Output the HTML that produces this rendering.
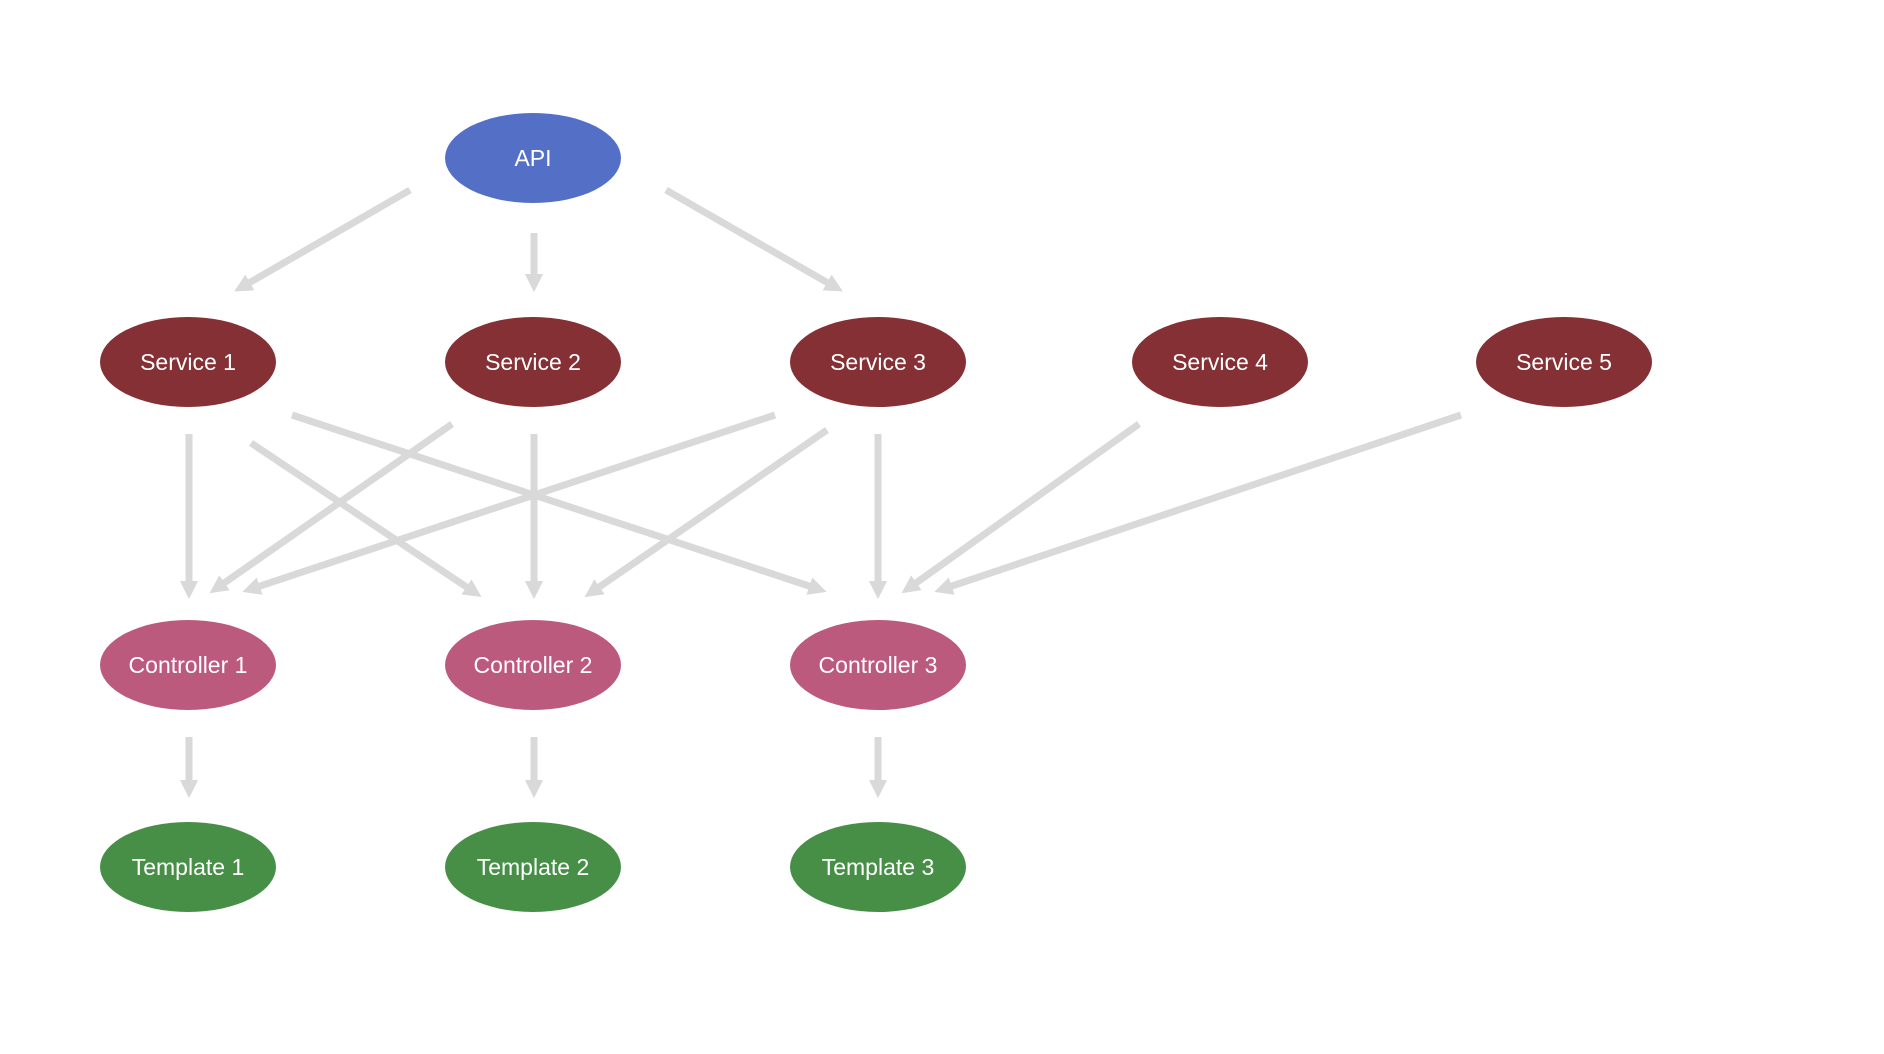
<!DOCTYPE html>
<html><head><meta charset="utf-8"><style>
html,body{margin:0;padding:0;background:#fff;width:1884px;height:1054px;overflow:hidden}
text{font-family:"Liberation Sans",sans-serif;font-size:23px;fill:#fff;text-anchor:middle;dominant-baseline:central}
</style></head><body>
<svg width="1884" height="1054" xmlns="http://www.w3.org/2000/svg">
<defs><marker id="a" markerWidth="2.6" markerHeight="2.6" refX="1.3" refY="1.3" orient="auto" markerUnits="strokeWidth">
<path d="M0,0 L2.6,1.3 L0,2.6 z" fill="#d9d9d9"/></marker></defs>
<g stroke="#d9d9d9" stroke-width="7" marker-end="url(#a)">
<line x1="410" y1="190" x2="242" y2="287"/>
<line x1="534" y1="233" x2="534" y2="283"/>
<line x1="666" y1="190" x2="835" y2="287"/>
<line x1="189" y1="434" x2="189" y2="590"/>
<line x1="251" y1="443" x2="474" y2="592"/>
<line x1="292" y1="415" x2="818" y2="589"/>
<line x1="452" y1="424" x2="217" y2="588"/>
<line x1="534" y1="434" x2="534" y2="590"/>
<line x1="775" y1="415" x2="251" y2="589"/>
<line x1="827" y1="430" x2="592" y2="592"/>
<line x1="878" y1="434" x2="878" y2="590"/>
<line x1="1139" y1="424" x2="909" y2="588"/>
<line x1="1461" y1="415" x2="943" y2="589"/>
<line x1="189" y1="737" x2="189" y2="789"/>
<line x1="534" y1="737" x2="534" y2="789"/>
<line x1="878" y1="737" x2="878" y2="789"/>
</g>
<ellipse cx="533" cy="158" rx="88" ry="45" fill="#5470c6"/><text x="533" y="158">API</text>
<g fill="#843035">
<ellipse cx="188" cy="362" rx="88" ry="45"/><ellipse cx="533" cy="362" rx="88" ry="45"/><ellipse cx="878" cy="362" rx="88" ry="45"/><ellipse cx="1220" cy="362" rx="88" ry="45"/><ellipse cx="1564" cy="362" rx="88" ry="45"/>
</g>
<text x="188" y="362">Service 1</text><text x="533" y="362">Service 2</text><text x="878" y="362">Service 3</text><text x="1220" y="362">Service 4</text><text x="1564" y="362">Service 5</text>
<g fill="#bc5a7e">
<ellipse cx="188" cy="665" rx="88" ry="45"/><ellipse cx="533" cy="665" rx="88" ry="45"/><ellipse cx="878" cy="665" rx="88" ry="45"/>
</g>
<text x="188" y="665">Controller 1</text><text x="533" y="665">Controller 2</text><text x="878" y="665">Controller 3</text>
<g fill="#478f47">
<ellipse cx="188" cy="867" rx="88" ry="45"/><ellipse cx="533" cy="867" rx="88" ry="45"/><ellipse cx="878" cy="867" rx="88" ry="45"/>
</g>
<text x="188" y="867">Template 1</text><text x="533" y="867">Template 2</text><text x="878" y="867">Template 3</text>
</svg>
</body></html>
